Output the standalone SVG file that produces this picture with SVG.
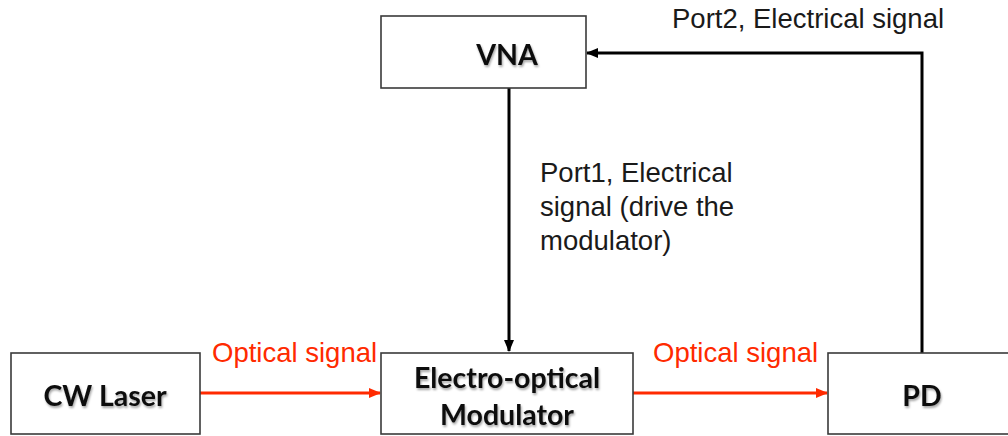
<svg xmlns="http://www.w3.org/2000/svg" width="1008" height="436" viewBox="0 0 1008 436">
  <defs>
    <style>
      .box { fill: #ffffff; stroke: #3a3a3a; stroke-width: 1.6; }
      .lbl { font-family: Lato, "Open Sans", sans-serif; font-weight: bold; font-size: 28.5px; fill: #111111; text-anchor: middle; filter: url(#shadow); }
      .ann { font-family: "Liberation Sans", Arial, sans-serif; font-size: 27.5px; fill: #1a1a1a; }
      .red { fill: #ff2a00; }
      .wire { fill: none; stroke: #000000; stroke-width: 3; }
      .opt { fill: none; stroke: #ff2a00; stroke-width: 3; }
    </style>
    <filter id="shadow" x="-20%" y="-30%" width="140%" height="160%">
      <feDropShadow dx="1" dy="2" stdDeviation="1.2" flood-color="#000000" flood-opacity="0.35"/>
    </filter>
    <marker id="ahBlack" markerUnits="userSpaceOnUse" markerWidth="12" markerHeight="10" refX="11" refY="5" orient="auto">
      <path d="M0,0 L12,5 L0,10 Z" fill="#000000"/>
    </marker>
    <marker id="ahRed" markerUnits="userSpaceOnUse" markerWidth="12" markerHeight="10" refX="11" refY="5" orient="auto">
      <path d="M0,0 L12,5 L0,10 Z" fill="#ff2a00"/>
    </marker>
  </defs>
  <rect width="1008" height="436" fill="#ffffff"/>

  <g id="connectors">
    <path class="wire" d="M509,88 L509,351" marker-end="url(#ahBlack)"/>
    <path class="wire" d="M922,353 L922,53 L587,53" marker-end="url(#ahBlack)"/>
    <path class="opt" d="M200,393 L380,393" marker-end="url(#ahRed)"/>
    <path class="opt" d="M633,393 L827,393" marker-end="url(#ahRed)"/>
    <text class="ann" x="672" y="28">Port2, Electrical signal</text>
    <text class="ann" x="540" y="182">Port1, Electrical</text>
    <text class="ann" x="540" y="216">signal (drive the</text>
    <text class="ann" x="540" y="250">modulator)</text>
    <text class="ann red" x="212" y="362">Optical signal</text>
    <text class="ann red" x="653" y="362">Optical signal</text>
  </g>

  <g id="vna">
    <rect class="box" x="381" y="16" width="205" height="72"/>
    <text class="lbl" x="507" y="65">VNA</text>
  </g>
  <g id="cw-laser">
    <rect class="box" x="11" y="353" width="189" height="81"/>
    <text class="lbl" x="105" y="406">CW Laser</text>
  </g>
  <g id="modulator">
    <rect class="box" x="381" y="353" width="252" height="81"/>
    <text class="lbl" x="507" y="388">Electro-optical</text>
    <text class="lbl" x="507" y="425">Modulator</text>
  </g>
  <g id="pd">
    <rect class="box" x="828" y="353" width="182" height="81"/>
    <text class="lbl" x="922" y="406">PD</text>
  </g>
</svg>
